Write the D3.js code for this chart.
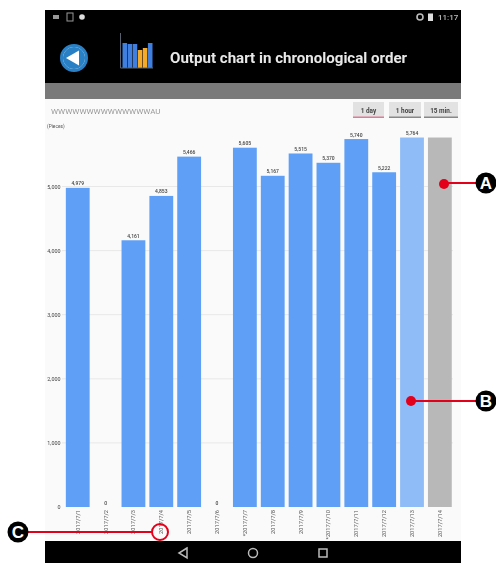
<!DOCTYPE html>
<html><head><meta charset="utf-8">
<script src="https://cdn.jsdelivr.net/npm/d3@7/dist/d3.min.js"></script>
<style>html,body{margin:0;padding:0;background:#fff}svg{display:block}text{font-family:Roboto,"Liberation Sans",sans-serif}</style>
</head><body><svg id="c" width="496" height="563"></svg>
<script>
const categories=["2017/7/1","2017/7/2","2017/7/3","2017/7/4","2017/7/5","2017/7/6","*2017/7/7","2017/7/8","2017/7/9","*2017/7/10","2017/7/11","2017/7/12","2017/7/13","2017/7/14"];
const values=[4979,0,4161,4853,5466,0,5605,5167,5515,5370,5740,5222,5764,5764];
const valueLabels=["4,979","0","4,161","4,853","5,466","0","5,605","5,167","5,515","5,370","5,740","5,222","5,764",""];
const barColors=["#5f9ff5","#5f9ff5","#5f9ff5","#5f9ff5","#5f9ff5","#5f9ff5","#5f9ff5","#5f9ff5","#5f9ff5","#5f9ff5","#5f9ff5","#5f9ff5","#8fbcf7","#b8b8b8"];
const yTicks=[0,1000,2000,3000,4000,5000];
const tabs=["1 day","1 hour","15 min."];
const tabX=[353,389,424], tabW=[31,32,34], tabLine=["#e07a95","#888","#888"];

const svg=d3.select("#c");
const soft=svg.append("defs").append("filter").attr("id","soft").attr("x","-5%").attr("y","-5%").attr("width","110%").attr("height","110%");
soft.append("feGaussianBlur").attr("stdDeviation",0.6);
const root=svg.append("g").attr("filter","url(#soft)");

// panels
root.append("rect").attr("x",45).attr("y",10).attr("width",416).attr("height",553).attr("fill","#000");
root.append("rect").attr("x",45).attr("y",83).attr("width",416).attr("height",16).attr("fill","#7a7a7a");
root.append("rect").attr("x",45).attr("y",99).attr("width",416).attr("height",442).attr("fill","#fafafa");

// status bar
root.append("rect").attr("x",53).attr("y",15).attr("width",6).attr("height",4).attr("fill","#999");
root.append("rect").attr("x",67).attr("y",13).attr("width",6).attr("height",8).attr("fill","none").attr("stroke","#999");
root.append("circle").attr("cx",82).attr("cy",17).attr("r",2.8).attr("fill","#ddd");
root.append("circle").attr("cx",420).attr("cy",17).attr("r",3).attr("fill","none").attr("stroke","#bbb").attr("stroke-width",1.6);
root.append("rect").attr("x",428).attr("y",13.5).attr("width",5).attr("height",7.5).attr("fill","#ddd");
root.append("text").attr("x",438).attr("y",20).attr("font-size",8).attr("font-weight",500).attr("fill","#bbb").text("11:17");

// back button
root.append("circle").attr("cx",74).attr("cy",58).attr("r",12.5).attr("fill","#fff").attr("stroke","#2a80c5").attr("stroke-width",3);
root.append("circle").attr("cx",74).attr("cy",58).attr("r",11).attr("fill","#2a80c5");
root.append("path").attr("d","M66 58L79 50.5V65.5Z").attr("fill","#fff");

// header icon
const iconH=[25,24,24,18,20,25], iconC=["#3f7fe0","#3f7fe0","#3f7fe0","#f5ab2c","#f5ab2c","#3f7fe0"];
const ix=d3.scaleBand().domain(d3.range(iconH.length)).range([122,153]).padding(.1);
root.append("g").selectAll("rect").data(iconH).join("rect").attr("x",(d,i)=>ix(i)).attr("y",d=>68-d).attr("width",ix.bandwidth()).attr("height",d=>d).attr("fill",(d,i)=>iconC[i]);
root.append("path").attr("d","M120.5 33V68H153").attr("fill","none").attr("stroke","#56606e").attr("stroke-width",1);
root.append("text").attr("x",170).attr("y",63).attr("font-size",15.1).attr("font-weight",700).attr("fill","#e8e8e8").text("Output chart in chronological order");

// nav
root.append("path").attr("d","M187 548L179 553L187 558Z").attr("fill","none").attr("stroke","#bbb").attr("stroke-width",1.5);
root.append("circle").attr("cx",253).attr("cy",553).attr("r",4.5).attr("fill","none").attr("stroke","#bbb").attr("stroke-width",1.5);
root.append("rect").attr("x",319).attr("y",549).attr("width",8).attr("height",8).attr("fill","none").attr("stroke","#bbb").attr("stroke-width",1.5);

// chart header
root.append("text").attr("x",51).attr("y",114).attr("font-size",8).attr("fill","#999").text("WWWWWWWWWWWWWWAU");
const tab=root.append("g").selectAll("g").data(tabs).join("g");
tab.append("rect").attr("x",(d,i)=>tabX[i]).attr("y",102).attr("width",(d,i)=>tabW[i]).attr("height",15).attr("fill","#e2e2e2");
tab.append("rect").attr("x",(d,i)=>tabX[i]).attr("y",116.5).attr("width",(d,i)=>tabW[i]).attr("height",1.5).attr("fill",(d,i)=>tabLine[i]);
tab.append("text").attr("x",(d,i)=>tabX[i]+tabW[i]/2).attr("y",113).attr("text-anchor","middle").attr("font-size",6.4).attr("font-weight",700).attr("fill","#444").text(d=>d);
root.append("text").attr("x",47).attr("y",128).attr("font-size",4.8).attr("fill","#555").text("(Pieces)");

// chart
const y=d3.scaleLinear().domain([0,5000]).range([507,186.5]);
const x=d3.scaleBand().domain(categories).range([63.6,454]).paddingInner(.145).paddingOuter(.08);
const yAxis=d3.axisLeft(y).tickValues(yTicks).tickSize(0).tickPadding(0).tickFormat(d3.format(","));
const ya=root.append("g").attr("transform","translate(60.5,0)").call(yAxis);
ya.select(".domain").remove();
ya.selectAll("text").attr("font-size",5.4).attr("fill","#444").style("font-family","Roboto,sans-serif");
root.append("g").selectAll("line").data(yTicks.slice(1)).join("line").attr("x1",62).attr("x2",453).attr("y1",d=>y(d)).attr("y2",d=>y(d)).attr("stroke","#e8e8e8").attr("stroke-width",1);
root.append("g").selectAll("rect").data(values).join("rect")
 .attr("x",(d,i)=>x(categories[i])).attr("width",x.bandwidth())
 .attr("y",d=>y(d)).attr("height",d=>y(0)-y(d)).attr("fill",(d,i)=>barColors[i]);
root.append("g").selectAll("text").data(valueLabels).join("text")
 .attr("x",(d,i)=>x(categories[i])+x.bandwidth()/2).attr("y",(d,i)=>y(values[i])-2.5)
 .attr("text-anchor","middle").attr("font-size",5).attr("font-weight",500).attr("fill","#444").text(d=>d);
const xAxis=d3.axisBottom(x).tickSize(0).tickPadding(0);
const xa=root.append("g").attr("transform","translate(0,510)").call(xAxis);
xa.select(".domain").remove();
xa.selectAll("text").attr("font-size",5.7).attr("fill","#555").attr("text-anchor","end").attr("dy",0)
 .attr("transform","rotate(-90) translate(0,2)").attr("x",0).attr("y",0)
 .style("font-family","Roboto,sans-serif");

// callouts
const red="#e3001b";
const ann=svg.append("g");
const calloutLetters=["A","B","C"], letterX=[486,486,18], letterY=[183,401,532], lineEndX=[444,411,152];
ann.selectAll("line").data(calloutLetters).join("line").attr("x1",(d,i)=>letterX[i]).attr("x2",(d,i)=>lineEndX[i]).attr("y1",(d,i)=>letterY[i]).attr("y2",(d,i)=>letterY[i]).attr("stroke",red).attr("stroke-width",2);
ann.append("circle").attr("cx",444).attr("cy",184).attr("r",5).attr("fill",red);
ann.append("circle").attr("cx",411).attr("cy",401).attr("r",5).attr("fill",red);
ann.append("circle").attr("cx",160).attr("cy",532).attr("r",8).attr("fill","none").attr("stroke",red).attr("stroke-width",2);
ann.selectAll("circle.l").data(calloutLetters).join("circle").attr("class","l").attr("cx",(d,i)=>letterX[i]).attr("cy",(d,i)=>letterY[i]).attr("r",10.5).attr("fill","#000");
ann.selectAll("text").data(calloutLetters).join("text").attr("x",(d,i)=>letterX[i]).attr("y",(d,i)=>letterY[i]+6).attr("text-anchor","middle").attr("font-size",17).attr("font-weight",700).attr("fill","#fff").style("font-family","'Liberation Sans',sans-serif").text(d=>d);
</script></body></html>
